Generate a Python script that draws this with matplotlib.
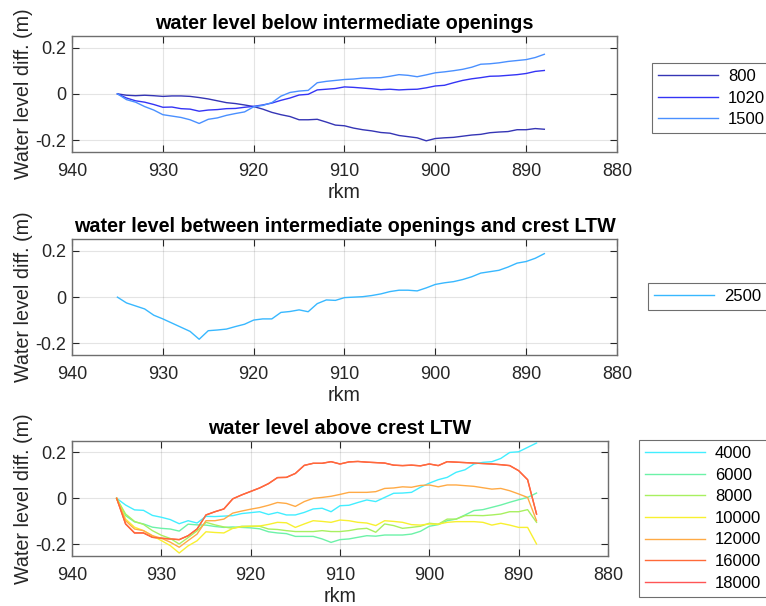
import matplotlib
matplotlib.use("Agg")
import matplotlib.pyplot as plt

plt.rcParams['font.family'] = ['Liberation Sans', 'DejaVu Sans']
plt.rcParams['axes.unicode_minus'] = False

rkm = [935, 934, 933, 932, 931, 930, 929, 928, 927, 926, 925, 924, 923, 922, 921, 920,
       919, 918, 917, 916, 915, 914, 913, 912, 911, 910, 909, 908, 907, 906, 905, 904,
       903, 902, 901, 900, 899, 898, 897, 896, 895, 894, 893, 892, 891, 890, 889, 888]

# Panel 1: below intermediate openings
q800 = [0, -0.006, -0.008, -0.006, -0.008, -0.011, -0.009, -0.009, -0.011, -0.016, -0.022, -0.030,
        -0.038, -0.042, -0.048, -0.055, -0.066, -0.080, -0.090, -0.098, -0.112, -0.112, -0.110, -0.122,
        -0.135, -0.138, -0.148, -0.155, -0.160, -0.167, -0.170, -0.180, -0.185, -0.190, -0.203, -0.193,
        -0.190, -0.188, -0.183, -0.178, -0.175, -0.168, -0.165, -0.163, -0.155, -0.155, -0.150, -0.153]
q1020 = [0, -0.018, -0.030, -0.036, -0.046, -0.058, -0.057, -0.064, -0.066, -0.075, -0.070, -0.068,
         -0.064, -0.063, -0.058, -0.054, -0.048, -0.040, -0.028, -0.018, -0.005, -0.002, 0.017, 0.020,
         0.023, 0.030, 0.028, 0.025, 0.022, 0.018, 0.020, 0.017, 0.019, 0.020, 0.026, 0.034,
         0.037, 0.048, 0.058, 0.065, 0.070, 0.076, 0.077, 0.080, 0.083, 0.088, 0.097, 0.101]
q1500 = [0, -0.025, -0.036, -0.055, -0.070, -0.090, -0.096, -0.102, -0.112, -0.128, -0.110, -0.104,
         -0.093, -0.085, -0.078, -0.056, -0.050, -0.038, -0.010, 0.006, 0.012, 0.015, 0.048, 0.054,
         0.058, 0.062, 0.064, 0.068, 0.069, 0.070, 0.076, 0.083, 0.080, 0.074, 0.082, 0.091,
         0.095, 0.100, 0.106, 0.115, 0.128, 0.130, 0.134, 0.140, 0.144, 0.148, 0.157, 0.171]

# Panel 2: between intermediate openings and crest LTW
q2500 = [0, -0.025, -0.038, -0.051, -0.078, -0.094, -0.112, -0.130, -0.148, -0.182, -0.145, -0.142,
         -0.138, -0.127, -0.117, -0.099, -0.094, -0.094, -0.066, -0.062, -0.055, -0.063, -0.028, -0.012,
         -0.014, -0.002, 0.000, 0.002, 0.007, 0.014, 0.024, 0.030, 0.030, 0.027, 0.040, 0.055,
         0.062, 0.067, 0.076, 0.088, 0.104, 0.110, 0.116, 0.130, 0.147, 0.154, 0.168, 0.188]

# Panel 3: above crest LTW
q4000 = [0, -0.029, -0.050, -0.052, -0.074, -0.082, -0.092, -0.110, -0.097, -0.107, -0.078, -0.079,
         -0.077, -0.075, -0.066, -0.062, -0.058, -0.070, -0.061, -0.072, -0.072, -0.061, -0.046, -0.043,
         -0.058, -0.032, -0.030, -0.018, -0.007, -0.014, 0.004, 0.022, 0.023, 0.026, 0.048, 0.066,
         0.081, 0.091, 0.113, 0.124, 0.149, 0.156, 0.159, 0.173, 0.199, 0.202, 0.221, 0.240]
q6000 = [0, -0.075, -0.102, -0.111, -0.125, -0.130, -0.133, -0.142, -0.112, -0.115, -0.116, -0.122,
         -0.126, -0.124, -0.126, -0.128, -0.132, -0.145, -0.150, -0.153, -0.165, -0.165, -0.165, -0.176,
         -0.191, -0.179, -0.176, -0.169, -0.162, -0.164, -0.159, -0.159, -0.159, -0.155, -0.143, -0.121,
         -0.114, -0.097, -0.090, -0.072, -0.053, -0.049, -0.039, -0.029, -0.017, -0.006, 0.004, 0.023]
q8000 = [0, -0.068, -0.100, -0.113, -0.140, -0.160, -0.174, -0.198, -0.170, -0.141, -0.104, -0.115,
         -0.124, -0.130, -0.121, -0.121, -0.121, -0.133, -0.135, -0.140, -0.144, -0.144, -0.144, -0.140,
         -0.144, -0.144, -0.140, -0.133, -0.130, -0.147, -0.111, -0.118, -0.130, -0.126, -0.121, -0.108,
         -0.112, -0.090, -0.090, -0.075, -0.074, -0.075, -0.072, -0.068, -0.058, -0.058, -0.049, -0.104]
q10000 = [0, -0.090, -0.125, -0.140, -0.162, -0.183, -0.205, -0.237, -0.206, -0.184, -0.145, -0.148,
          -0.150, -0.130, -0.123, -0.121, -0.120, -0.113, -0.104, -0.106, -0.126, -0.111, -0.097, -0.100,
          -0.104, -0.094, -0.097, -0.104, -0.107, -0.118, -0.097, -0.100, -0.104, -0.114, -0.116, -0.111,
          -0.112, -0.104, -0.101, -0.101, -0.101, -0.104, -0.116, -0.108, -0.116, -0.126, -0.126, -0.198]
q12000 = [0, -0.097, -0.133, -0.140, -0.162, -0.173, -0.190, -0.212, -0.183, -0.155, -0.097, -0.097,
          -0.090, -0.064, -0.055, -0.047, -0.040, -0.030, -0.018, -0.022, -0.035, -0.014, 0.000, 0.004,
          0.009, 0.017, 0.026, 0.026, 0.026, 0.029, 0.043, 0.045, 0.050, 0.048, 0.056, 0.058,
          0.050, 0.058, 0.058, 0.055, 0.052, 0.046, 0.040, 0.043, 0.033, 0.019, 0.004, -0.097]
q16000 = [0, -0.111, -0.150, -0.150, -0.169, -0.173, -0.176, -0.179, -0.162, -0.133, -0.072, -0.058,
          -0.046, -0.002, 0.015, 0.030, 0.045, 0.064, 0.090, 0.091, 0.108, 0.143, 0.152, 0.152,
          0.159, 0.149, 0.158, 0.160, 0.157, 0.155, 0.153, 0.144, 0.142, 0.144, 0.141, 0.149,
          0.142, 0.159, 0.157, 0.155, 0.153, 0.151, 0.149, 0.146, 0.142, 0.120, 0.081, -0.068]
q18000 = [0, -0.111, -0.150, -0.150, -0.169, -0.173, -0.176, -0.179, -0.162, -0.133, -0.072, -0.058,
          -0.046, -0.002, 0.015, 0.030, 0.045, 0.064, 0.090, 0.091, 0.108, 0.143, 0.152, 0.152,
          0.159, 0.149, 0.158, 0.160, 0.157, 0.155, 0.153, 0.144, 0.142, 0.144, 0.141, 0.149,
          0.142, 0.159, 0.157, 0.155, 0.153, 0.151, 0.149, 0.146, 0.142, 0.120, 0.081, -0.068]

titles = ["water level below intermediate openings",
          "water level between intermediate openings and crest LTW",
          "water level above crest LTW"]
xticks = [940, 930, 920, 910, 900, 890, 880]
yticks = [-0.2, 0, 0.2]
yticklabels = ["-0.2", "0", "0.2"]

# (label, values, colour, zorder)
panels = [
    [("800", q800, '#3535b5', 3), ("1020", q1020, '#3434f5', 3), ("1500", q1500, '#4a90ff', 3)],
    [("2500", q2500, '#38b8ff', 3)],
    [("4000", q4000, '#42eeff', 3), ("6000", q6000, '#6cf2a8', 3), ("8000", q8000, '#a8f060', 3),
     ("10000", q10000, '#f8f030', 3), ("12000", q12000, '#ffaa45', 3),
     ("16000", q16000, '#ff6a38', 3), ("18000", q18000, '#ff5555', 2)],
]

fig = plt.figure(figsize=(7.66, 6.06), dpi=100)
W, H = 766.0, 606.0
axes_px = [(72, 36, 617, 151.7), (72, 239.3, 617, 355), (72, 440.7, 608, 556)]
legend_px = [(652, 63), (648, 283), (639, 440)]

for i, (l, t, r, b) in enumerate(axes_px):
    ax = fig.add_axes([l / W, 1 - b / H, (r - l) / W, (b - t) / H])
    for lab, vals, col, z in panels[i]:
        ax.plot(rkm, vals, color=col, lw=1.0, label=lab, zorder=z)
    ax.set_xlim(940, 880)
    ax.set_ylim(-0.25, 0.25)
    ax.set_xticks(xticks)
    ax.set_yticks(yticks)
    ax.set_yticklabels(yticklabels)
    ax.grid(True, color='#262626', alpha=0.12, lw=0.8)
    ax.tick_params(direction='in', top=True, right=True, length=5, width=0.8,
                   labelsize=13, colors='#262626')
    ax.tick_params(axis='x', pad=8)
    ax.tick_params(axis='y', pad=4)
    for s in ax.spines.values():
        s.set_color('#6e6e6e')
        s.set_linewidth(1.0)
    ax.set_title(titles[i], fontsize=14.2, fontweight='bold', pad=5)
    ax.set_xlabel("rkm", fontsize=14.2, color='#262626', labelpad=2)
    ax.set_ylabel("Water level diff. (m)", fontsize=14.2, color='#262626', labelpad=2)
    lx, ly = legend_px[i]
    leg = ax.legend(loc='upper left', bbox_to_anchor=(lx / W, 1 - ly / H),
                    bbox_transform=fig.transFigure, fontsize=12, frameon=True,
                    fancybox=False, framealpha=1, edgecolor='#6e6e6e',
                    handlelength=3.6, handletextpad=0.6, labelspacing=0.4,
                    borderpad=0.35, borderaxespad=0)
    leg.get_frame().set_linewidth(0.8)

fig.savefig("out.png", dpi=100)
